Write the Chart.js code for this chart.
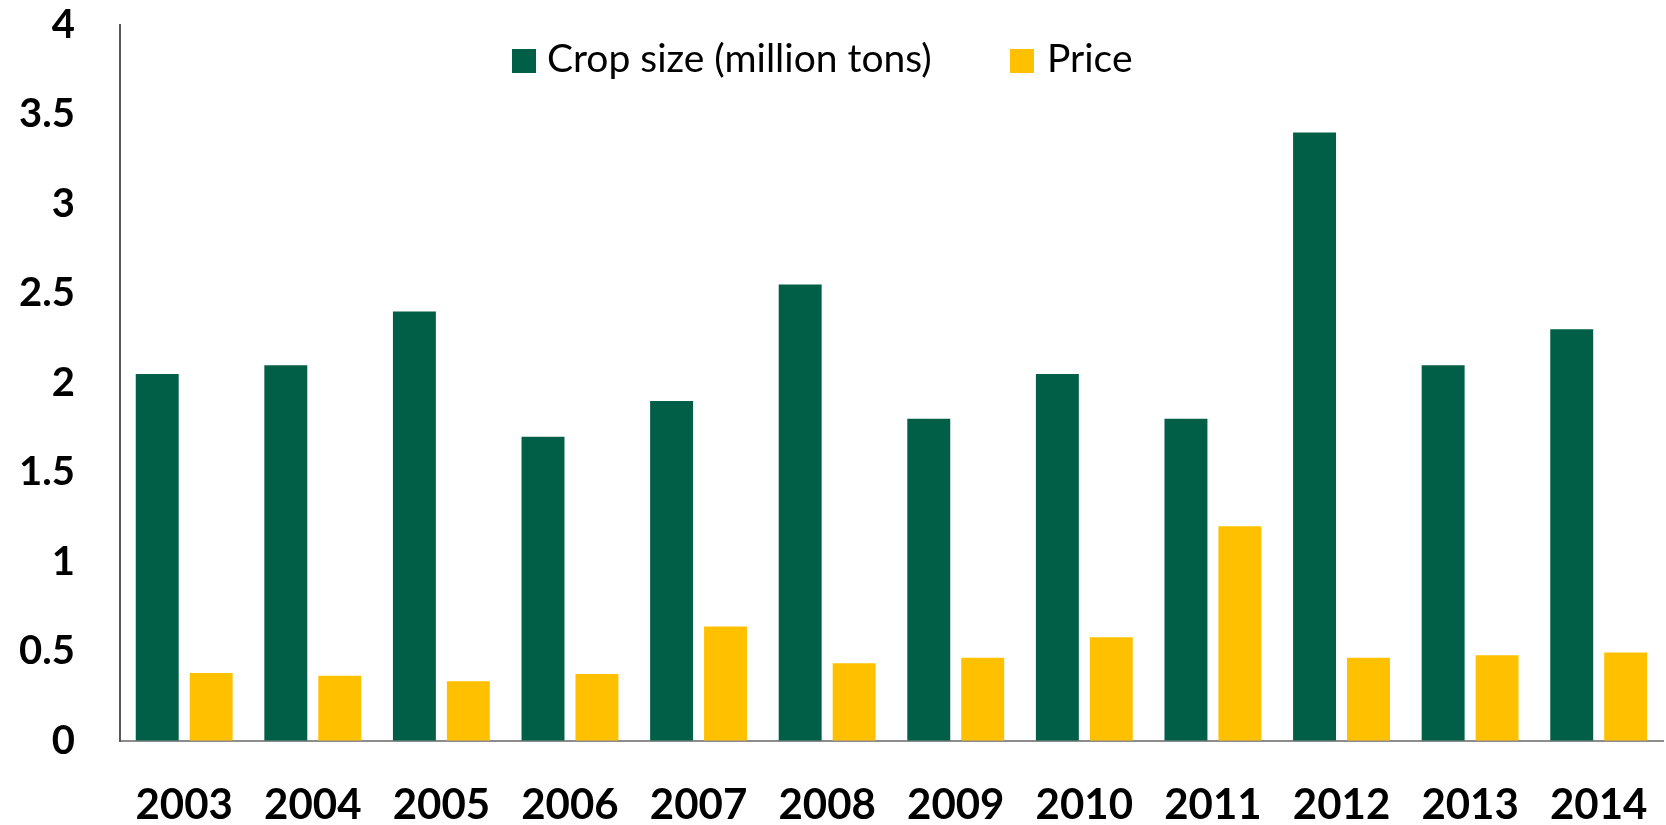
<!DOCTYPE html>
<html>
<head>
<meta charset="utf-8">
<script src="https://cdn.jsdelivr.net/npm/chart.js@4.4.1/dist/chart.umd.min.js"></script>
<style>
  html, body { margin: 0; padding: 0; background: #ffffff; }
  #wrap { position: relative; width: 1666px; height: 825px; }
  .lg-box { position: absolute; width: 24px; height: 24px; top: 49px; }
  .lg-text { position: absolute; top: 34px; height: 47px; line-height: 47px; font-family: 'Lato', sans-serif; font-size: 39px; color: #000; white-space: nowrap; }
</style>
</head>
<body>
<div id="wrap">
  <canvas id="c"></canvas>
  <div id="legend"></div>
</div>
<script>
const categories = ['2003', '2004', '2005', '2006', '2007', '2008', '2009', '2010', '2011', '2012', '2013', '2014'];
const cropSize = [2.05, 2.1, 2.4, 1.7, 1.9, 2.55, 1.8, 2.05, 1.8, 3.4, 2.1, 2.3];
const price = [0.38, 0.365, 0.335, 0.375, 0.64, 0.435, 0.465, 0.58, 1.2, 0.465, 0.48, 0.495];
const yTickLabels = ['0', '0.5', '1', '1.5', '2', '2.5', '3', '3.5', '4'];
const seriesNames = ['Crop size (million tons)', 'Price'];
const seriesColors = ['#005F46', '#FFC000'];

const chart = new Chart(document.getElementById('c'), {
  type: 'bar',
  data: {
    labels: categories,
    datasets: [
      { label: seriesNames[0], data: cropSize, backgroundColor: seriesColors[0],
        categoryPercentage: 0.839, barPercentage: 0.796 },
      { label: seriesNames[1], data: price, backgroundColor: seriesColors[1],
        categoryPercentage: 0.839, barPercentage: 0.796 }
    ]
  },
  options: {
    responsive: true,
    maintainAspectRatio: false,
    animation: false,
    layout: { padding: { left: 19, right: 3, top: 25, bottom: 0 } },
    plugins: {
      tooltip: { enabled: false },
      legend: { display: false }
    },
    scales: {
      x: {
        grid: { display: true, drawOnChartArea: false, drawTicks: true, tickLength: 44, tickColor: 'rgba(0,0,0,0)' },
        border: { display: true, color: '#8c8c8c', width: 2 },
        ticks: {
          color: '#000000',
          padding: 0,
          maxRotation: 0,
          font: { family: 'Lato', size: 42, weight: 'bold', lineHeight: 0.95 }
        }
      },
      y: {
        min: 0,
        max: 4,
        grid: { display: true, drawOnChartArea: false, drawTicks: true, tickLength: 45, tickColor: 'rgba(0,0,0,0)' },
        border: { display: true, color: '#595959', width: 2 },
        ticks: {
          stepSize: 0.5,
          color: '#000000',
          padding: 0,
          font: { family: 'Lato', size: 40, weight: 'bold', lineHeight: 1.0 },
          callback: (v, i) => yTickLabels[i]
        }
      }
    }
  }
});

// HTML legend built from the series names/colours
const legendPos = [[512, 547], [1010, 1047]];
const legendEl = document.getElementById('legend');
seriesNames.forEach((name, i) => {
  const box = document.createElement('div');
  box.className = 'lg-box';
  box.style.left = legendPos[i][0] + 'px';
  box.style.background = seriesColors[i];
  legendEl.appendChild(box);
  const txt = document.createElement('div');
  txt.className = 'lg-text';
  txt.style.left = legendPos[i][1] + 'px';
  txt.textContent = name;
  legendEl.appendChild(txt);
});
</script>
</body>
</html>
